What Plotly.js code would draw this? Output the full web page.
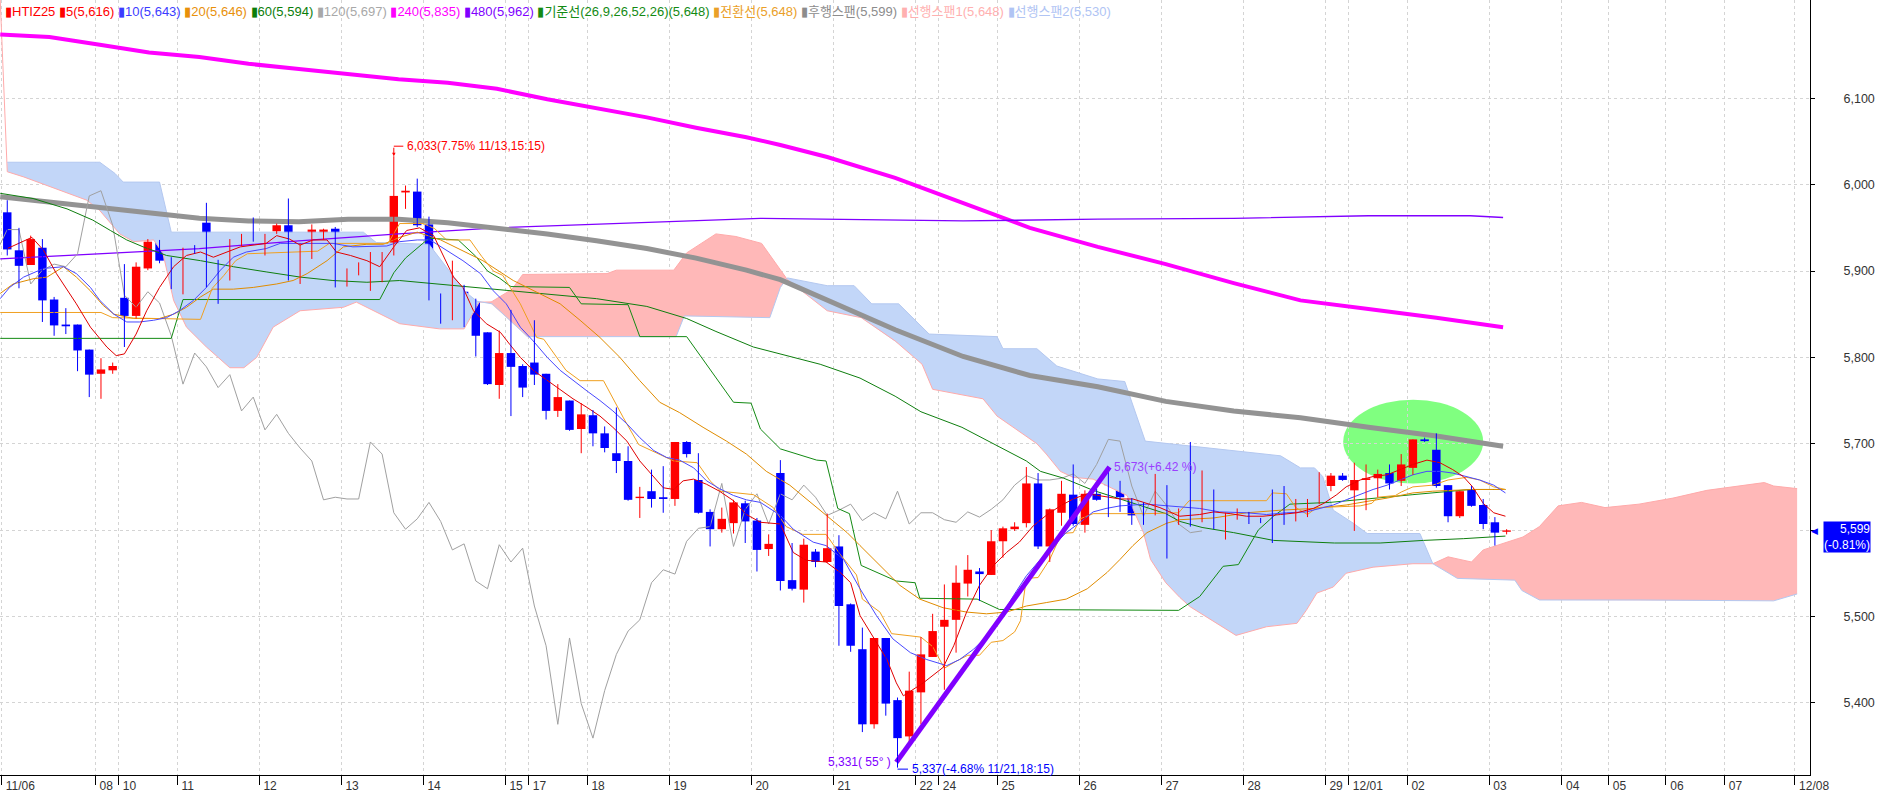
<!DOCTYPE html>
<html><head><meta charset="utf-8">
<script src="https://cdn.plot.ly/plotly-3.0.1.min.js"></script>
<style>html,body{margin:0;padding:0;background:#fff;overflow:hidden}#chart{width:1877px;height:793px}</style>
</head><body><div id="chart"></div><script>
// ---------- candles (index 0..128) ----------
const open = [5968,5924,5907,5927,5867,5838,5838,5809,5781,5785,
5869,5848,5903,5934,5913,5900,5927,5956,5912,5891,
5932,5941,5935,5946,5953,5901,5921,5941,5949,5885,
5900,5903,5905,5919,5991,5992,5954,5873,5871,5876,
5864,5829,5768,5805,5790,5794,5781,5738,5750,5717,
5733,5712,5689,5680,5637,5645,5638,5636,5702,5658,
5621,5601,5608,5631,5611,5578,5666,5542,5531,5575,
5563,5581,5514,5462,5375,5475,5403,5361,5412,5453,
5488,5496,5538,5552,5548,5587,5601,5608,5654,5581,
5620,5641,5606,5642,5660,5651,5637,5625,5623,5632,
5619,5616,5612,5646,5606,5619,5618,5613,5629,5622,
5616,5621,5634,5651,5663,5646,5658,5660,5666,5657,
5672,5705,5693,5652,5616,5647,5629,5609,5598];
const high = [5982,5950,5941,5937,5870,5857,5838,5809,5799,5794,
5908,5910,5937,5936,5916,5927,5930,5979,5913,5937,
5943,5962,5943,5955,5984,5932,5954,5949,5951,5903,
5910,5922,5922,6033,5999,6007,5963,5874,5912,5884,
5868,5829,5831,5855,5792,5843,5781,5769,5750,5747,
5739,5720,5742,5697,5650,5670,5674,5702,5703,5689,
5624,5626,5635,5634,5614,5595,5681,5585,5590,5578,
5619,5594,5515,5487,5475,5475,5406,5436,5476,5503,
5537,5559,5571,5556,5600,5604,5609,5673,5666,5625,
5657,5676,5646,5648,5671,5657,5637,5632,5665,5652,
5625,5702,5669,5647,5620,5625,5621,5614,5647,5651,
5636,5636,5667,5666,5666,5678,5676,5670,5676,5688,
5705,5707,5712,5652,5645,5651,5636,5615,5601];
const low = [5918,5880,5907,5841,5825,5827,5784,5754,5752,5781,
5812,5845,5901,5909,5879,5873,5920,5881,5862,5889,
5929,5934,5918,5943,5889,5885,5914,5936,5881,5882,
5895,5877,5887,5918,5972,5951,5866,5839,5843,5835,
5801,5768,5752,5732,5754,5768,5728,5731,5715,5689,
5697,5690,5666,5634,5614,5626,5620,5628,5684,5619,
5581,5597,5596,5585,5552,5570,5530,5530,5516,5557,
5562,5466,5459,5366,5370,5385,5337,5352,5375,5453,
5415,5458,5523,5518,5548,5568,5599,5603,5578,5563,
5605,5605,5597,5634,5615,5621,5606,5606,5617,5567,
5606,5604,5609,5601,5589,5612,5607,5608,5585,5606,
5610,5615,5630,5645,5657,5599,5623,5638,5647,5651,
5664,5702,5649,5609,5614,5627,5601,5582,5595];
const close = [5925,5906,5937,5866,5837,5836,5808,5780,5786,5790,
5848,5905,5934,5912,5900,5926,5922,5910,5891,5936,
5941,5936,5942,5953,5903,5920,5948,5948,5885,5901,
5908,5905,5920,5987,5993,5953,5872,5858,5876,5863,
5825,5769,5805,5789,5765,5780,5738,5754,5716,5734,
5712,5695,5680,5635,5638,5636,5636,5702,5688,5620,
5601,5613,5632,5610,5577,5584,5541,5532,5583,5563,
5579,5512,5466,5375,5475,5399,5359,5414,5456,5483,
5496,5539,5554,5549,5587,5602,5604,5654,5581,5624,
5642,5607,5642,5635,5652,5638,5617,5623,5630,5611,
5620,5613,5645,5607,5620,5620,5612,5609,5621,5615,
5624,5635,5652,5663,5658,5658,5660,5665,5654,5676,
5705,5703,5651,5616,5645,5628,5607,5597,5599];

// ---------- x-axis ticks ----------
const tickPos = [-0.5,7.5,9.5,14.5,21.5,28.5,35.5,42.5,44.5,49.5,56.5,63.5,70.5,77.5,79.5,84.5,91.5,98.5,105.5,112.5,114.5,119.5,126.5,132.7,136.7,141.6,146.6,152.6];
const tickLabels = ['11/06','08','10','11','12','13','14','15','17','18','19','20','21','22','24','25','26','27','28','29','12/01','02','03','04','05','06','07','12/08'];
const yTicks = [5400,5500,5600,5700,5800,5900,6000,6100];
const yTickLabels = ['5,400','5,500','','5,700','5,800','5,900','6,000','6,100'];

// ---------- moving averages ----------
const ma5X = [0,2.1,3.1,4.2,5.9,7.1,8.5,9.3,10,11,11.9,13,14.2,15.3,16.5,17.6,19.9,22.1,23,24.1,25,26.1,27.3,28.1,29.3,30.7,31.8,33,34.1,35.2,36.4,38.1,38.9,39.8,40.9,42.1,42.9,43.8,44.9,46.1,47.2,48.3,49.5,50.6,51.7,52.9,54,55.2,56,56.9,57.7,58.6,59.7,60.8,62,63.1,64.3,66,67.1,68.2,69.9,71.1,72,72.8,73.9,75.1,75.9,76.5,78.2,79.9,80.8,81.9,83,84.2,85.3,86.4,87.6,88.7,89.9,91,92.2,93.9,95,96.1,98.4,100.1,101.8,103,104.4,105.8,107.2,108.7,110.1,111.5,112.4,113.5,114.3,115.5,116.6,117.8,118.9,120,121.2,122.3,123.4,124.3,125.1,126,126.9,127.9];
const ma5Y = [5926,5939,5924,5897,5862,5835,5812,5802,5804,5827,5854,5881,5905,5918,5922,5916,5928,5932,5941,5937,5930,5936,5936,5922,5918,5912,5905,5928,5947,5950,5941,5893,5881,5854,5839,5829,5815,5800,5785,5773,5763,5752,5742,5732,5719,5703,5680,5661,5649,5647,5657,5659,5653,5645,5634,5618,5609,5607,5574,5565,5563,5551,5539,5501,5477,5450,5423,5408,5423,5441,5466,5505,5536,5559,5574,5586,5605,5617,5628,5636,5642,5638,5636,5636,5626,5616,5618,5621,5619,5616,5616,5618,5620,5625,5631,5641,5650,5658,5662,5664,5670,5676,5681,5678,5670,5662,5650,5631,5620,5616];
const ma10X = [-0.6,0.2,1.4,3.1,4.8,5.9,7.1,7.9,9.1,10.2,11.3,12.5,13.6,14.7,15.9,17,18.2,19.3,20.4,22.1,23.3,25.6,27.8,29.5,32.4,33.5,35,36.1,38.9,40.4,41.5,42.6,43.8,44.9,46.1,47.2,48.3,49.5,50.6,51.7,52.9,54,55.2,56.3,57.4,58.6,59.7,60.8,62,63.1,64.3,66,67.1,68.8,69.9,71.4,72.8,74.2,75.6,77.1,78.5,80.2,81.3,82.5,83.6,84.7,85.9,87,88.2,89.3,90.4,91.6,92.7,93.8,95,97.3,100.1,101.8,103.5,105.8,107.5,109.2,110.9,112.1,113.2,114.3,115.5,116.6,117.8,118.9,120,121.2,122.3,123.4,124.6,125.7,126.9,127.9];
const ma10Y = [5868,5881,5893,5903,5905,5897,5881,5866,5850,5841,5841,5843,5846,5854,5866,5881,5901,5916,5922,5926,5932,5932,5932,5928,5929,5934,5936,5936,5912,5897,5877,5862,5835,5819,5800,5785,5773,5761,5750,5738,5723,5707,5692,5684,5681,5672,5657,5648,5640,5635,5632,5617,5601,5586,5582,5566,5532,5501,5474,5458,5450,5443,5450,5462,5477,5497,5524,5547,5566,5582,5597,5609,5621,5625,5628,5630,5627,5625,5621,5620,5618,5620,5621,5625,5629,5635,5641,5647,5652,5658,5664,5668,5668,5666,5662,5658,5652,5643];
const ma20X = [-0.6,0.5,2.2,3.4,4.8,5.9,7.1,8.2,9.1,10.8,13,14.2,15.3,16.5,17.6,19.3,21,23,24.4,25.6,27.3,28.7,30.7,32.1,33.5,35,37,40.6,43.2,45.5,47.2,48.9,50.6,52.3,54,55.7,57.4,59.4,61.4,63.1,64.8,66.8,69.9,71.7,72.8,74.5,76.2,77.9,79.9,81.9,83.6,85.3,87,88.7,90.4,92.2,93.9,95,96.1,97.3,99,100.1,103,105.8,108.7,111.5,114.3,116,117.8,120,121.7,123.4,125.1,126.9,127.9];
const ma20Y = [5874,5885,5891,5893,5905,5893,5877,5860,5850,5845,5845,5850,5858,5870,5879,5879,5881,5885,5889,5897,5912,5928,5931,5931,5939,5945,5936,5912,5889,5874,5862,5843,5823,5800,5773,5748,5736,5719,5703,5688,5668,5652,5617,5597,5582,5559,5536,5520,5510,5505,5503,5505,5512,5516,5520,5532,5551,5566,5582,5597,5608,5612,5614,5620,5623,5625,5629,5633,5637,5643,5645,5646,5647,5647,5647];
const ma60X = [-0.6,2.2,5.1,7.3,8.8,10.2,11.6,13.6,16.5,19.3,22.1,25,27.8,30.7,33.5,37.6,41.8,46.1,50.3,54.6,58,60.5,63.7,69.4,72.8,75.8,78,81.5,84.2,87,88.2,90.2,92.7,96,98.9,100.1,102,104.7,108.1,113.3,117.2,120.9,124.3,127.9];
const ma60Y = [5990,5984,5972,5959,5947,5936,5928,5918,5912,5905,5899,5893,5889,5887,5889,5884,5879,5873,5868,5859,5845,5830,5812,5792,5776,5755,5737,5719,5700,5680,5668,5660,5646,5632,5619,5610,5603,5597,5588,5585,5585,5588,5590,5593];
const ma120X = [-0.6,3.6,7.9,12.1,16.4,20.6,24.9,29.1,33.4,37.6,41.8,46.1,50.3,54.6,58.8,63.1,66,70,75.8,81.6,87.3,93.1,98.9,104.7,110.4,116.2,122,127.7];
const ma120Y = [5986,5980,5974,5967,5961,5958,5957,5960,5960,5956,5950,5943,5935,5926,5915,5901,5890,5866,5832,5801,5779,5766,5749,5738,5730,5719,5709,5697];
const ma240X = [-0.6,3.6,7.9,12.1,16.4,20.6,24.9,29.1,33.4,37.6,41.8,46.1,50.3,54.6,58.8,63.1,66,70,75.8,81.6,87.3,93.1,98.9,104.7,110.4,116.2,122,127.7];
const ma240Y = [6174,6171,6162,6153,6148,6140,6134,6128,6122,6118,6111,6099,6089,6078,6066,6055,6046,6032,6008,5979,5950,5928,5908,5886,5866,5856,5846,5835];
const ma480X = [-0.6,7.9,16.4,24.9,33.4,41.8,50.3,58.8,64.3,81.6,93.1,104.7,116.2,124.9,127.7];
const ma480Y = [5914,5920,5926,5935,5943,5950,5954,5958,5961,5958,5960,5961,5964,5964,5962];

// ---------- ichimoku ----------
const baseX = [-0.6,14,15,31.8,33,34,36,38.5,40,41,42,43,48,49,53,54,58,62,63.5,64.3,66,69.1,69.9,70.9,71.9,72.9,75.9,77.5,77.9,82.8,84.7,100,101.8,103.8,105.1,106.8,108.1,109.5,112.9,117.2,120,124.9,127.9];
const baseY = [5822,5822,5867,5867,5898,5915,5938,5936,5917,5900,5892,5882,5881,5862,5861,5824,5824,5748,5747,5717,5694,5681,5680,5625,5619,5559,5541,5539,5521,5520,5508,5507,5523,5558,5560,5600,5616,5630,5632,5637,5641,5647,5647];
const convX = [-0.6,8,9,16.5,17.5,18.5,19.5,20.5,26.5,27.5,32.5,33.5,35.5,36.5,37.5,39.5,40.5,41.5,42.3,43.8,45.2,45.8,47.7,48.9,50.9,52.6,53.9,56.9,58.9,60,60.9,63.7,65.4,66.5,67.9,69.9,71.1,72.5,73,74.5,75.5,78,79,80,81,82,83,84,85,86,86.5,87,88,89,90,91,91.6,92.7,97.3,100,100.9,107.5,108,109.2,110,111,111.8,115.5,116.5,117,118.5,119,120,121.7,123,124.6,125.7,126.9,127.9];
const convY = [5852,5852,5846,5844,5880,5895,5912,5920,5923,5932,5932,5955,5955,5949,5936,5936,5917,5900,5895,5862,5823,5821,5785,5773,5773,5730,5699,5680,5678,5657,5645,5641,5626,5604,5595,5595,5572,5548,5520,5505,5480,5476,5465,5440,5448,5455,5455,5470,5472,5482,5495,5544,5545,5566,5596,5597,5613,5619,5619,5620,5634,5634,5643,5642,5626,5618,5626,5628,5631,5638,5640,5644,5650,5652,5658,5661,5658,5650,5647];
const span1LeadX = [-0.6];
const span1LeadY = [6214];
const span1X = [0,1.4,6.8,7.9,9.6,10.8,12.5,13.3,14.2,15.3,17,19,20.2,21.3,22.7,25,28.7,29.8,33.5,36.9,39,40.3,41.3,43.1,44,51.2,52,56.9,58,60.5,62.2,64.4,66.6,70,72.9,75.8,78.1,79,83.3,84.5,87.9,88.7,89.9,91,92.7,95.6,97,97.6,98.9,100.1,101,104.9,107.5,110.1,110.9,111.8,113.2,114.3,116.6,120,121.7,123,125,126,127.4,129.4,130.8,132.4,134.4,136.4,139.3,142.2,145.1,147.4,150,150.8,152.8];
const span1Y = [6015,6009,5982,5970,5943,5934,5936,5920,5866,5835,5812,5788,5788,5800,5835,5854,5858,5864,5839,5833,5833,5864,5864,5879,5896,5897,5901,5901,5921,5943,5940,5932,5890,5854,5846,5819,5792,5763,5752,5732,5700,5688,5668,5661,5659,5640,5597,5566,5539,5522,5511,5478,5488,5492,5507,5527,5534,5550,5557,5561,5561,5569,5563,5577,5583,5592,5604,5628,5632,5626,5630,5637,5646,5650,5655,5651,5648];
const span2X = [0,7.9,9.2,9.9,13,14,30.4,31.5,36,39.1,40.1,41.4,44.4,57.1,57.8,65.1,66,66.6,70,72.3,73.8,76.1,78.7,84.5,85,87.9,89.6,93.1,95.4,97.15,108.7,110.4,111.6,112.3,113.2,114.9,116.1,120.6,121.7,123.8,128.7,129.3,130.8,139.3,150.8,152.8];
const span2Y = [6026,6026,6013,6003,6003,5945,5945,5933,5931,5876,5865,5862,5824,5824,5848,5846,5881,5892,5883,5883,5862,5862,5827,5824,5810,5810,5790,5775,5772,5703,5686,5672,5672,5662,5623,5608,5596,5596,5561,5544,5542,5530,5519,5519,5518,5526];
const laggingShift = 26;

// ---------- drawings ----------
const trendX = [75.9, 94.1];
const trendY = [5331, 5673];
const circleX = [114.05, 126.0];
const circleY = [5654, 5751];
const peakText = '6,033(7.75% 11/13,15:15)';
const lowText = '5,337(-4.68% 11/21,18:15)';
const trendStartText = '5,331( 55° )';
const trendEndText = '5,673(+6.42 %)';
const lastChangePct = '-0.81%';

const legendNames = ['HTIZ25','5(5,616)','10(5,643)','20(5,646)','60(5,594)','120(5,697)','240(5,835)','480(5,962)','기준선(26,9,26,52,26)(5,648)','전환선(5,648)','후행스팬(5,599)','선행스팬1(5,648)','선행스팬2(5,530)'];
const legendColors = ['#ff0000','#ff0000','#3c3cff','#e8900a','#0a7d0a','#a8a8a8','#ff00ff','#8000ff','#138a13','#eaa028','#8c8c8c','#ffb0b0','#b0c4f4'];

// ---------- build ----------
const FONT = 'Liberation Sans, Arial, Noto Sans CJK KR, sans-serif';
const idx = open.map((_, i) => i);
const traces = [];

function interp(xs, ys, x) {
  if (x <= xs[0]) return ys[0];
  for (let k = 1; k < xs.length; k++) {
    if (x <= xs[k]) { const t = (x - xs[k-1]) / (xs[k] - xs[k-1]); return ys[k-1] + t * (ys[k] - ys[k-1]); }
  }
  return ys[ys.length - 1];
}
// cloud fill polygons
(function () {
  const lo = Math.max(span1X[0], span2X[0]), hi = Math.min(span1X[span1X.length-1], span2X[span2X.length-1]);
  const grid = Array.from(new Set(span1X.concat(span2X))).filter(v => v >= lo && v <= hi).sort((a, b) => a - b);
  const polys = [];
  let cur = null;
  const push = (x) => { cur.pts.push([x, interp(span1X, span1Y, x), interp(span2X, span2Y, x)]); };
  for (let k = 0; k < grid.length; k++) {
    const x = grid[k];
    const d = interp(span1X, span1Y, x) - interp(span2X, span2Y, x);
    const sgn = d >= 0 ? 1 : -1;
    if (!cur) { cur = {sgn, pts: []}; push(x); continue; }
    if (sgn !== cur.sgn) {
      const xp = grid[k-1];
      const dp = interp(span1X, span1Y, xp) - interp(span2X, span2Y, xp);
      const xc = xp + (x - xp) * dp / (dp - d);
      push(xc); polys.push(cur);
      cur = {sgn, pts: []}; push(xc);
    }
    push(x);
  }
  polys.push(cur);
  polys.forEach(p => {
    const xs = p.pts.map(q => q[0]), a = p.pts.map(q => q[1]), b = p.pts.map(q => q[2]);
    traces.push({x: xs.concat(xs.slice().reverse()), y: a.concat(b.slice().reverse()), mode: 'lines', fill: 'toself',
      fillcolor: p.sgn > 0 ? '#ffb8b8' : '#c2d6f8', line: {width: 0}, hoverinfo: 'skip', showlegend: false});
  });
})();
traces.push({x: span1LeadX.concat(span1X), y: span1LeadY.concat(span1Y), mode: 'lines', line: {color: '#ffaaaa', width: 1}, hoverinfo: 'skip'});
traces.push({x: span2X, y: span2Y, mode: 'lines', line: {color: '#b4c8f0', width: 1}, hoverinfo: 'skip'});

function line(x, y, color, width) { traces.push({x, y, mode: 'lines', line: {color, width}, hoverinfo: 'skip'}); }
line(ma240X, ma240Y, '#ff00ff', 4);
line(ma480X, ma480Y, '#8000ff', 1.3);
line(ma120X, ma120Y, '#939393', 5);
line(idx.map(i => i - laggingShift), close, '#a0a0a0', 1);
line(ma60X, ma60Y, '#0e7e0e', 1);
line(baseX, baseY, '#138a13', 1);
line(ma20X, ma20Y, '#e08c00', 1);
line(convX, convY, '#f0a020', 1);
line(ma10X, ma10Y, '#4848ff', 1);
line(ma5X, ma5Y, '#e00000', 1);

// candles
['up', 'down'].forEach(kind => {
  const sel = idx.filter(i => kind === 'up' ? close[i] >= open[i] : close[i] < open[i]);
  const col = kind === 'up' ? '#ff0000' : '#0000ff';
  const wx = [], wy = [];
  sel.forEach(i => { wx.push(i, i, null); wy.push(low[i], high[i], null); });
  traces.push({x: wx, y: wy, mode: 'lines', line: {color: col, width: 1}, hoverinfo: 'skip'});
  traces.push({type: 'bar', x: sel, base: sel.map(i => Math.min(open[i], close[i])),
    y: sel.map(i => Math.max(Math.abs(close[i] - open[i]), 1.6)), width: 0.72,
    marker: {color: col, line: {width: 0}}, hoverinfo: 'skip'});
});
// trend line
traces.push({x: trendX, y: trendY, mode: 'lines', line: {color: '#8000ff', width: 5}, hoverinfo: 'skip'});

const peakIdx = high.indexOf(Math.max(...high));
const lowIdx = low.indexOf(Math.min(...low));
const last = close[close.length - 1];
const fmt = v => v.toLocaleString('en-US');
const legendText = legendNames.map((n, k) => `<span style="color:${legendColors[k]}">▮${n}</span>`).join(' ');

const annotations = [
  {xref: 'paper', yref: 'paper', x: 0, y: 1, xanchor: 'left', yanchor: 'top', xshift: 3, yshift: -2, showarrow: false,
   text: legendText, font: {family: FONT, size: 13}},
  {x: peakIdx, y: high[peakIdx], text: '', showarrow: true, arrowhead: 2, arrowsize: 0.7, arrowwidth: 1, arrowcolor: '#ff0000', ax: 0, ay: -10, standoff: 0},
  {x: peakIdx, y: high[peakIdx], text: '', showarrow: true, arrowhead: 0, arrowwidth: 1, arrowcolor: '#ff0000', ax: 11, ay: 0, yshift: 10},
  {x: peakIdx, y: high[peakIdx], text: peakText, showarrow: false, xanchor: 'left', yanchor: 'middle', xshift: 11, yshift: 10,
   font: {family: FONT, size: 12, color: '#ff0000'}},
  {x: lowIdx, y: low[lowIdx], text: '', showarrow: true, arrowhead: 0, arrowwidth: 1, arrowcolor: '#0000ff', ax: 0, ay: 12},
  {x: lowIdx, y: low[lowIdx], text: '', showarrow: true, arrowhead: 0, arrowwidth: 1, arrowcolor: '#0000ff', ax: 12, ay: 0, yshift: -12},
  {x: lowIdx, y: low[lowIdx], text: lowText, showarrow: false, xanchor: 'left', yanchor: 'middle', xshift: 12, yshift: -12,
   font: {family: FONT, size: 12, color: '#0000ff'}},
  {x: trendX[0], y: trendY[0], text: trendStartText, showarrow: false, xanchor: 'right', yanchor: 'middle', xshift: -3,
   font: {family: FONT, size: 12, color: '#8000ff'}},
  {x: trendX[1], y: trendY[1], text: trendEndText, showarrow: false, xanchor: 'left', yanchor: 'middle', xshift: 2,
   font: {family: FONT, size: 12, color: '#9a40ff'}},
  {xref: 'paper', x: 1, y: last, text: '◀', showarrow: false, xanchor: 'left', yanchor: 'middle', xshift: -1,
   font: {family: 'DejaVu Sans', size: 9, color: '#0000ff'}},
  {xref: 'paper', x: 1, y: last, text: fmt(last) + '<br>(' + lastChangePct + ')', showarrow: false, xanchor: 'left', yanchor: 'middle',
   xshift: 13, yshift: -6, align: 'right', bgcolor: '#0000ff', borderpad: 0,
   font: {family: FONT, size: 12, color: '#ffffff'}}
];

const layout = {
  width: 1877, height: 793, margin: {l: 0, r: 67, t: 0, b: 18},
  paper_bgcolor: '#ffffff', plot_bgcolor: '#ffffff', showlegend: false, barmode: 'overlay', dragmode: false,
  xaxis: {range: [-0.62, 153.9], tickmode: 'array', tickvals: tickPos, ticktext: tickLabels.map(t => '\u00a0' + t),
    tickangle: 0, ticks: 'outside', ticklen: 9, tickcolor: '#000', tickwidth: 1, ticklabelposition: 'outside right', ticklabelstandoff: 0,
    showline: true, linecolor: '#000', linewidth: 1, showgrid: true, gridcolor: '#d4d4d4', griddash: 'dot', gridwidth: 1,
    zeroline: false, tickfont: {family: FONT, size: 12, color: '#333'}, fixedrange: true, automargin: false},
  yaxis: {side: 'right', range: [5316.3, 6213.9], tickmode: 'array', tickvals: yTicks, ticktext: yTickLabels,
    ticks: 'outside', ticklen: 4, tickcolor: '#000', ticklabelstandoff: 26,
    showline: true, linecolor: '#000', linewidth: 1, showgrid: true, gridcolor: '#d4d4d4', griddash: 'dot', gridwidth: 1,
    zeroline: false, tickfont: {family: FONT, size: 12.5, color: '#333'}, fixedrange: true, automargin: false},
  shapes: [{type: 'circle', xref: 'x', yref: 'y', x0: circleX[0], x1: circleX[1], y0: circleY[0], y1: circleY[1],
    fillcolor: '#80ff80', line: {width: 0}, layer: 'below'}],
  annotations
};
Plotly.newPlot('chart', traces.map(t => Object.assign({showlegend: false}, t)), layout, {staticPlot: true, displayModeBar: false});
</script></body></html>
